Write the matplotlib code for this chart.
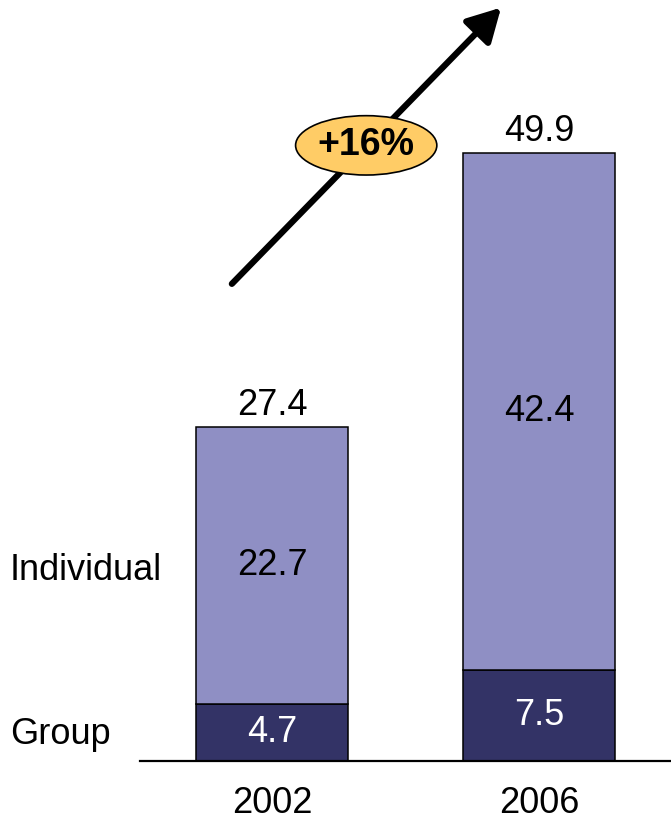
import matplotlib.pyplot as plt
from matplotlib.patches import Ellipse

plt.rcParams['font.family'] = ['Liberation Sans', 'DejaVu Sans']

years = ["2002", "2006"]
group = [4.7, 7.5]
individual = [22.7, 42.4]
totals = [27.4, 49.9]
growth = "+16%"

fig = plt.figure(figsize=(6.71, 8.23), dpi=100)
ax = fig.add_axes([140 / 671, 62 / 823, 531 / 671, 761 / 823])

x = [0, 1]
w = 0.569
ax.bar(x, group, width=w, color="#333366", edgecolor="black", linewidth=1.1)
ax.bar(x, individual, width=w, bottom=group, color="#8F8FC4", edgecolor="black", linewidth=1.1)

for i in x:
    ax.text(i, group[i] / 2, f"{group[i]}", ha="center", va="center", color="white", fontsize=26)
    ax.text(i, group[i] + individual[i] / 2, f"{individual[i]}", ha="center", va="center",
            color="black", fontsize=26)
    ax.text(i, totals[i] + 0.4, f"{totals[i]}", ha="center", va="bottom", color="black", fontsize=26)

ax.set_xlim(-0.494, 1.494)
ax.set_ylim(0, 62.5)
ax.set_xticks(x)
ax.set_xticklabels(years, fontsize=26)
ax.tick_params(axis="x", length=0, pad=18)
ax.set_yticks([])
for s in ["top", "right", "left"]:
    ax.spines[s].set_visible(False)
ax.spines["bottom"].set_linewidth(1.6)

# growth arrow
ax.annotate("", xy=(0.680, 0.990), xytext=(0.173, 0.627), xycoords="axes fraction",
            arrowprops=dict(arrowstyle="-|>,head_length=2.0,head_width=1.1", lw=4.5,
                            color="black", shrinkA=0, shrinkB=0))
ell = Ellipse((0.426, 0.809), 0.266, 0.078, transform=ax.transAxes,
              facecolor="#FFCC66", edgecolor="black", linewidth=1.2, zorder=5)
ax.add_patch(ell)
ax.text(0.426, 0.809, growth, transform=ax.transAxes, ha="center", va="center",
        fontsize=27, fontweight="bold", zorder=6)

fig.text(10 / 671, 1 - 571 / 823, "Individual", ha="left", va="center", fontsize=26)
fig.text(10 / 671, 1 - 735 / 823, "Group", ha="left", va="center", fontsize=26)

fig.savefig("out.png", dpi=100)
